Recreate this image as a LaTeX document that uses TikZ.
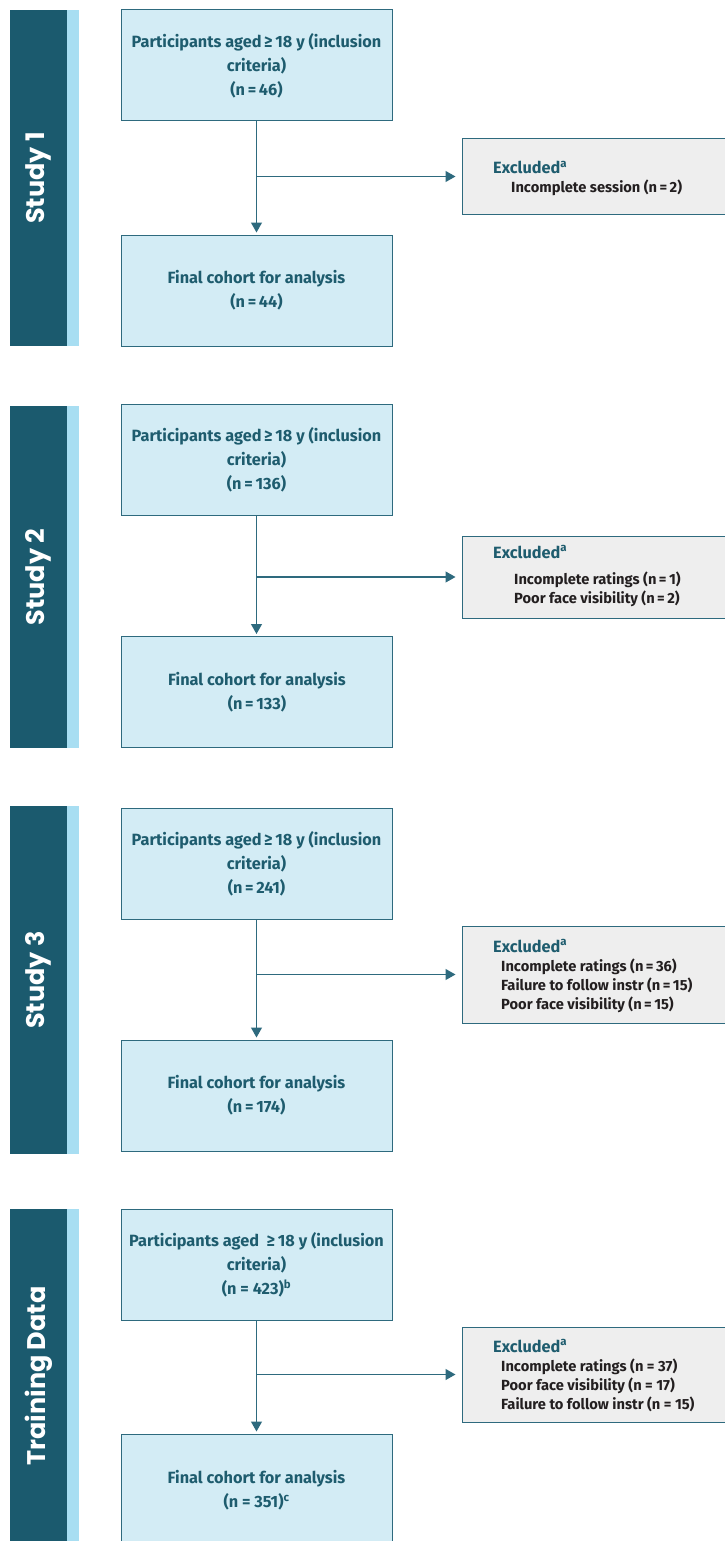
\documentclass[tikz,border=0pt]{standalone}
\usepackage{fontspec}
\setmainfont{Fira Sans}
\newfontfamily\barfont{Poppins}
\usetikzlibrary{arrows.meta}
\definecolor{bardark}{HTML}{1B5A6E}
\definecolor{barlight}{HTML}{A8DEF2}
\definecolor{boxfill}{HTML}{D3ECF5}
\definecolor{boxline}{HTML}{2E6A7E}
\definecolor{textteal}{HTML}{1E5C6E}
\definecolor{exclfill}{HTML}{EEEEEE}
\definecolor{itemtext}{HTML}{231F20}

\begin{document}
\begin{tikzpicture}[x=1pt,y=-1pt,
    bar/.style={fill=bardark,minimum width=57pt,inner sep=0pt},
    strip/.style={fill=barlight,minimum width=12pt,inner sep=0pt},
    barlabel/.style={rotate=90,text=white,font=\barfont\bfseries\fontsize{25.5}{28}\selectfont},
    cohort/.style={draw=boxline,fill=boxfill,line width=1pt,minimum width=271pt,minimum height=111pt,inner sep=0pt,align=center,text=textteal,font=\bfseries\fontsize{16.3}{24}\selectfont},
    exclbox/.style={draw=boxline,fill=exclfill,line width=1pt,minimum width=264pt,inner sep=0pt},
    exclhead/.style={anchor=base west,inner sep=0pt,text=textteal,font=\bfseries\fontsize{16.3}{19}\selectfont},
    excllist/.style={anchor=base west,inner sep=0pt,text=itemtext,font=\bfseries\fontsize{14.7}{19}\selectfont},
    flow/.style={draw=boxline,line width=1.2pt,-{Triangle[width=11pt,length=10pt]}}]
\useasboundingbox (0,0) rectangle (724,1541);

\node (bar1) at (38.5,178) [bar,minimum height=336pt] {};
\node (strip1) at (73,178) [strip,minimum height=336pt] {};
\node (lab1) at (bar1) [barlabel] {Study 1};
\node (top1) at (256.5,65.5) [cohort] {Participants aged\,≥\,18 y (inclusion\\criteria)\\(n\,=\,46)};
\node (fin1) at (256.5,290.5) [cohort] {Final cohort for analysis\\(n\,=\,44)};
\node (ex1) at (594,176.5) [exclbox,minimum height=75pt] {};
\node (exh1) at (493,174) [exclhead] {Excluded\textsuperscript{a}};
\node (exl1) at (511,193) [excllist] {Incomplete session (n\,=\,2)};

\node (bar2) at (38.5,577) [bar,minimum height=342pt] {};
\node (strip2) at (73,577) [strip,minimum height=342pt] {};
\node (lab2) at (bar2) [barlabel] {Study 2};
\node (top2) at (256.5,460) [cohort] {Participants aged\,≥\,18 y (inclusion\\criteria)\\(n\,=\,136)};
\node (fin2) at (257,692) [cohort] {Final cohort for analysis\\(n\,=\,133)};
\node (ex2) at (594,577) [exclbox,minimum height=82pt] {};
\node (exh2) at (493,558) [exclhead] {Excluded\textsuperscript{a}};
\node (exl2) at (514,584) [excllist] {\begin{tabular}[t]{@{}l@{}}Incomplete ratings (n\,=\,1)\\Poor face visibility (n\,=\,2)\end{tabular}};

\node (bar3) at (38.5,980) [bar,minimum height=348pt] {};
\node (strip3) at (73,980) [strip,minimum height=348pt] {};
\node (lab3) at (bar3) [barlabel] {Study 3};
\node (top3) at (256.5,863.5) [cohort] {Participants aged\,≥\,18 y (inclusion\\criteria)\\(n\,=\,241)};
\node (fin3) at (256.5,1095.5) [cohort] {Final cohort for analysis\\(n\,=\,174)};
\node (ex3) at (594,974.5) [exclbox,minimum height=97pt] {};
\node (exh3) at (493,952) [exclhead] {Excluded\textsuperscript{a}};
\node (exl3) at (501,971) [excllist] {\begin{tabular}[t]{@{}l@{}}Incomplete ratings (n\,=\,36)\\Failure to follow instr (n\,=\,15)\\Poor face visibility (n\,=\,15)\end{tabular}};

\node (bar4) at (38.5,1378) [bar,minimum height=338pt] {};
\node (strip4) at (73,1378) [strip,minimum height=338pt] {};
\node (lab4) at (38.5,1376) [barlabel] {Training Data};
\node (top4) at (256.5,1265) [cohort] {Participants aged \ ≥\,18 y (inclusion\\criteria)\\(n = 423)\textsuperscript{b}};
\node (fin4) at (256.5,1490.5) [cohort,minimum height=113pt] {Final cohort for analysis\\(n = 351)\textsuperscript{c}};
\node (ex4) at (594,1374.5) [exclbox,minimum height=95pt] {};
\node (exh4) at (493,1352) [exclhead] {Excluded\textsuperscript{a}};
\node (exl4) at (501,1371) [excllist] {\begin{tabular}[t]{@{}l@{}}Incomplete ratings (n = 37)\\Poor face visibility (n = 17)\\Failure to follow instr (n = 15)\end{tabular}};

\draw[flow,shorten >=2pt] (top1) -- (fin1);
\draw[flow,shorten >=6pt] (top1.south |- ex1) -- (ex1.west);
\draw[flow,shorten >=2pt] (top2) -- (top2 |- fin2.north);
\draw[flow,shorten >=6pt] (top2.south |- ex2) -- (ex2.west);
\draw[flow,shorten >=2pt] (top3) -- (fin3);
\draw[flow,shorten >=6pt] (top3.south |- ex3) -- (ex3.west);
\draw[flow,shorten >=2pt] (top4) -- (fin4);
\draw[flow,shorten >=6pt] (top4.south |- ex4) -- (ex4.west);
\end{tikzpicture}
\end{document}
